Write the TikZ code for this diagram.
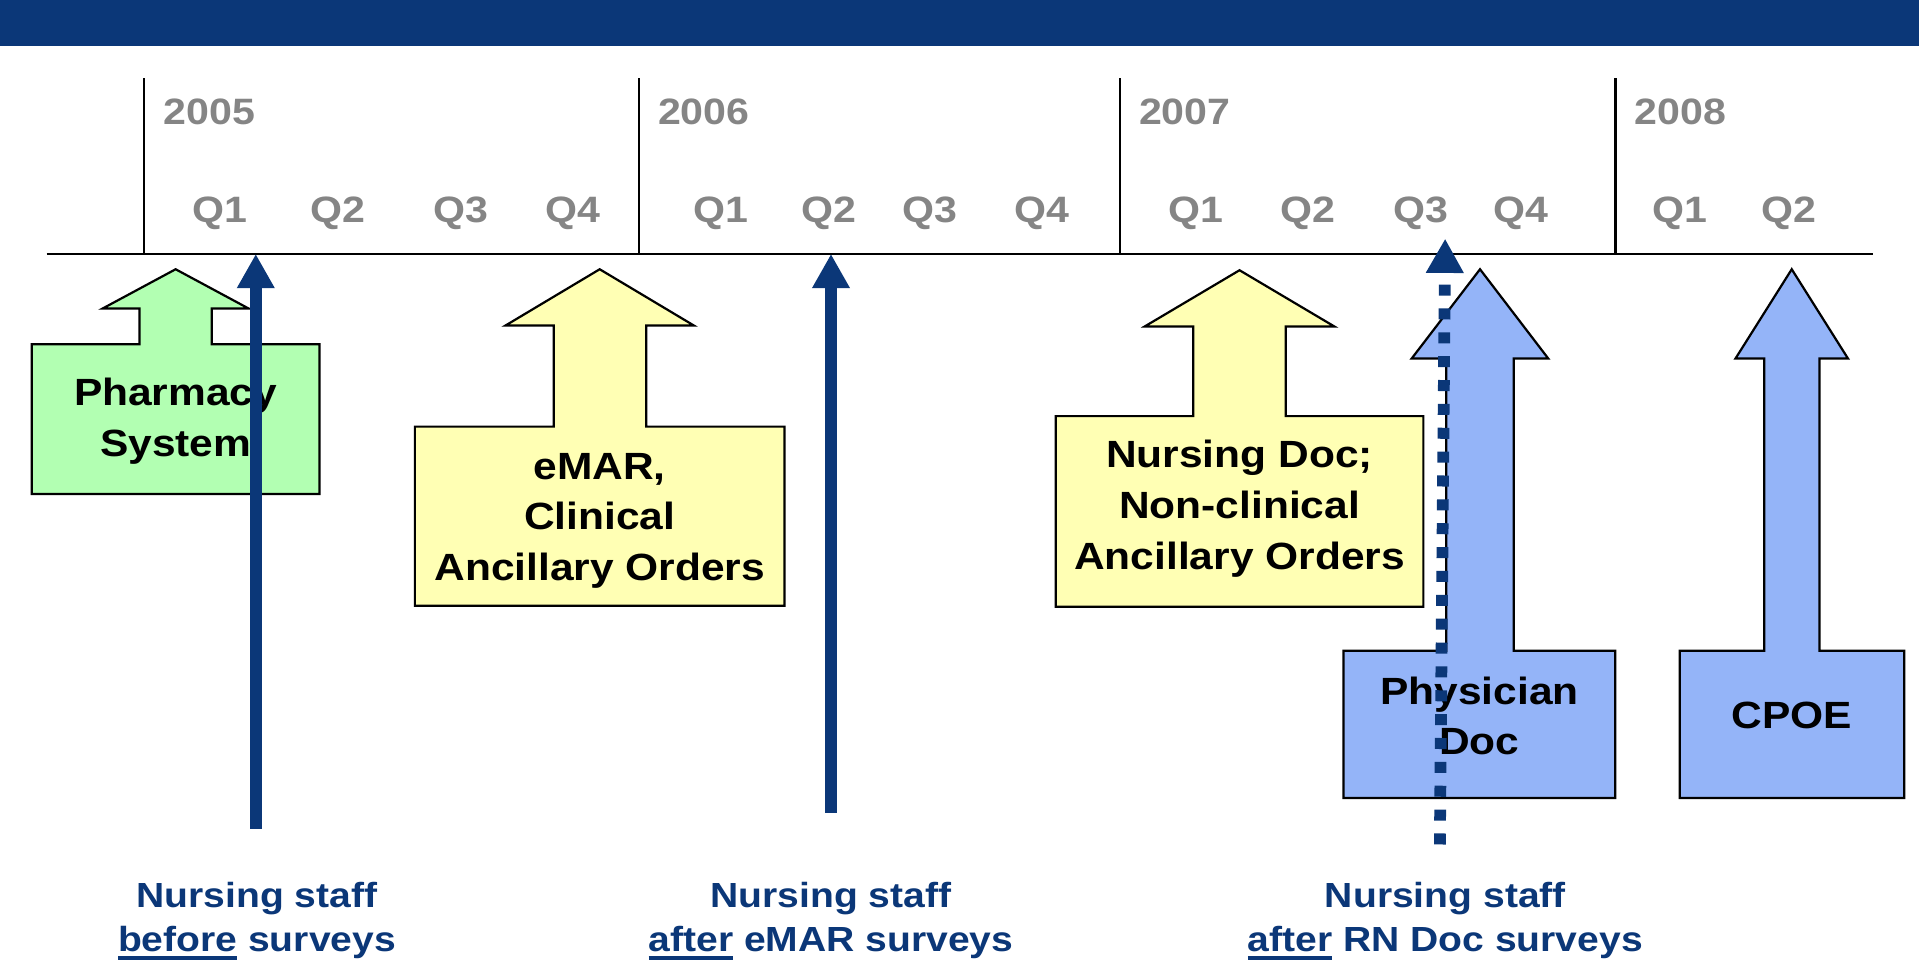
\documentclass[tikz,border=0pt]{standalone}
\usepackage{fontspec}
\setmainfont{Liberation Sans}[FakeStretch=1.12]
\usetikzlibrary{arrows.meta}
\definecolor{navy}{RGB}{11,55,120}
\definecolor{qgray}{RGB}{133,133,133}
\definecolor{pgreen}{RGB}{178,255,178}
\definecolor{pyellow}{RGB}{255,255,180}
\definecolor{pblue}{RGB}{148,180,248}
\tikzset{
	callout/.style={draw=black,line width=1.8pt},
	boxtext/.style={font=\bfseries\fontsize{31}{41.5}\selectfont,align=center,inner sep=0pt,anchor=north},
	stafftext/.style={font=\bfseries\fontsize{28.5}{35.5}\selectfont,align=center,text=navy,inner sep=0pt,anchor=north},
	yeartext/.style={font=\bfseries\fontsize{30}{36}\selectfont,text=qgray,inner sep=0pt},
}
\newcommand\ulword[1]{\setbox0\hbox{#1}\rlap{\color{navy}\rule[-7pt]{\wd0}{3.6pt}}\box0\relax}
\begin{document}
\begin{tikzpicture}[x=1pt,y=-1pt]
		\useasboundingbox (0,0) rectangle (1568,787.7);
		\fill[navy] (0,0) rectangle (1568,37.3);

		% timeline
		\coordinate (L) at (38,207.5);
		\coordinate (R) at (1530,207.5);
		\draw[line width=2pt] (L) -- (R);
		\foreach \yr/\x in {2005/118,2006/522,2007/915,2008/1320}{
		    \draw[line width=1.7pt] (\x,64) -- (\x,207.5);
		    \node[yeartext,anchor=base west] (y\yr) at (\x+15.5,102) {\yr};
		}
		\foreach \x/\q [count=\i] in {180/Q1,276/Q2,376.5/Q3,468/Q4,589/Q1,677/Q2,760/Q3,851/Q4,977/Q1,1069/Q2,1161/Q3,1243/Q4,1373/Q1,1461.5/Q2}
		    \node[yeartext,anchor=base] (q\i) at (\x,181.5) {\q};

		% systems
		\draw[callout,fill=pgreen] (26,403.7) -- (26,281.3) -- (114,281.3) -- (114,252) -- (84,252) -- (143.5,220) -- (203,252) -- (173,252) -- (173,281.3) -- (261,281.3) -- (261,403.7) -- cycle;
		\node[boxtext] (pharm) at (143.5,308.6) {Pharmacy\\System};

		\draw[callout,fill=pyellow] (339,495) -- (339,348.6) -- (452.5,348.6) -- (452.5,266) -- (413,266) -- (490,220) -- (567,266) -- (528,266) -- (528,348.6) -- (641,348.6) -- (641,495) -- cycle;
		\node[boxtext] (emar) at (490,370) {eMAR,\\Clinical\\Ancillary Orders};

		\draw[callout,fill=pyellow] (862.6,495.8) -- (862.6,340) -- (975,340) -- (975,266.7) -- (935.4,266.7) -- (1012.8,220.8) -- (1090.2,266.7) -- (1050.5,266.7) -- (1050.5,340) -- (1163,340) -- (1163,495.8) -- cycle;
		\node[boxtext] (nursdoc) at (1012.8,359.5) {Nursing Doc;\\Non-clinical\\Ancillary Orders};

		\draw[callout,fill=pblue] (1097.8,652) -- (1097.8,531.7) -- (1181.7,531.7) -- (1181.7,293) -- (1153.4,293) -- (1209.3,220) -- (1265.1,293) -- (1236.8,293) -- (1236.8,531.7) -- (1319.8,531.7) -- (1319.8,652) -- cycle;
		\node[boxtext] (physdoc) at (1208.8,552.7) {Physician\\Doc};

		\draw[callout,fill=pblue] (1372.5,652) -- (1372.5,531.7) -- (1441.5,531.7) -- (1441.5,293) -- (1418,293) -- (1464,220) -- (1510,293) -- (1486.6,293) -- (1486.6,531.7) -- (1556,531.7) -- (1556,652) -- cycle;
		\node[boxtext] (cpoe) at (1464,573) {CPOE};

		% surveys
		\coordinate (s1a) at (209,677);
		\coordinate (s1b) at (209,207.5);
		\coordinate (s2a) at (679,664);
		\coordinate (s2b) at (679,207.5);
		\coordinate (s3a) at (1176.5,690);
		\coordinate (s3b) at (1180.8,195);
		\begin{scope}[navy,line width=9.6pt,-{Triangle[width=29pt,length=28pt]}]
		    \draw (s1a) -- (s1b);
		    \draw (s2a) -- (s2b);
		    \draw[dash pattern=on 9pt off 10.5pt] (s3a) -- (s3b);
		\end{scope}

		\node[stafftext] (staff1) at (210,721) {Nursing staff\\\ulword{before} surveys};
		\node[stafftext] (staff2) at (679,721) {Nursing staff\\\ulword{after} eMAR surveys};
		\node[stafftext] (staff3) at (1181,721) {Nursing staff\\\ulword{after} RN Doc surveys};
\end{tikzpicture}
\end{document}
